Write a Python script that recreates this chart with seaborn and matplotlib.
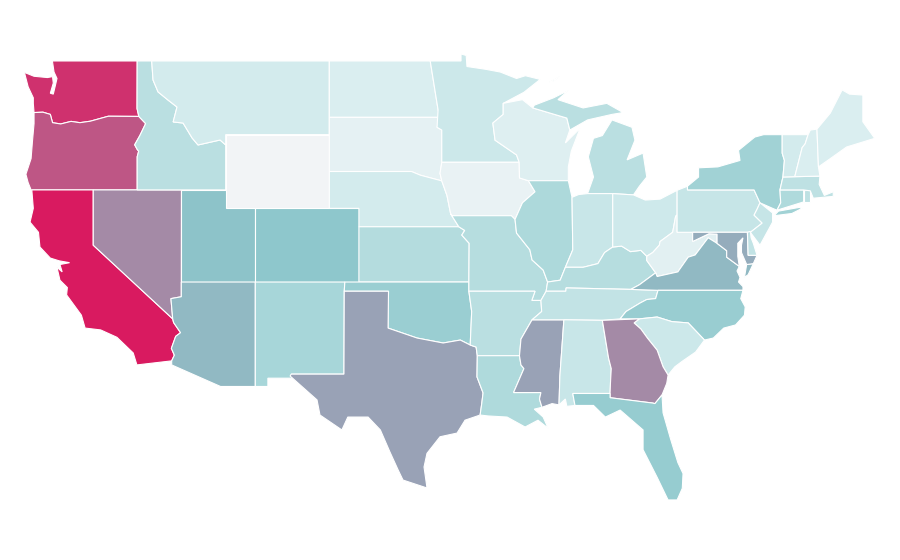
import matplotlib
matplotlib.use('Agg')
import matplotlib.pyplot as plt
from matplotlib.colors import Normalize
import seaborn as sns

# nilai per negara bagian (skala 0-100, dibaca dari warna)
states = ['WA', 'OR', 'CA', 'NV', 'ID', 'MT', 'WY', 'UT', 'CO', 'AZ', 'NM', 'ND', 'SD', 'NE', 'KS', 'OK',
          'TX', 'MN', 'IA', 'MO', 'AR', 'LA', 'WI', 'IL', 'MS', 'MI', 'IN', 'KY', 'TN', 'AL', 'OH', 'WV',
          'VA', 'NC', 'SC', 'GA', 'FL', 'PA', 'NY', 'MD', 'DE', 'NJ', 'CT', 'RI', 'MA', 'VT', 'NH', 'ME']
values = [94, 84, 100, 69, 28, 16, 0, 51, 49, 54, 37, 12, 7, 16, 31, 43,
          61, 19, 5, 30, 28, 33, 10, 34, 61, 28, 21, 30, 24, 21, 18, 8,
          54, 44, 19, 69, 45, 22, 40, 58, 24, 22, 33, 26, 26, 16, 12, 12]

# batas negara bagian (bujur, lintang)
WA = [[(-122.76,49),(-117.03,49),(-117.04,46.42),(-116.92,45.99),(-118.98,46),(-119.3,45.93),(-120.2,45.73),(-120.9,45.65),(-121.5,45.72),(-122.2,45.58),(-122.75,45.65),(-122.9,46.1),(-123.4,46.22),(-124,46.2),(-124.05,46.7),(-124.05,47),(-124.4,47.6),(-124.65,48.38),(-124,48.17),(-123.1,48.1),(-122.75,48.15),(-122.7,47.8),(-122.9,47.25),(-122.7,47.2),(-122.55,47.7),(-122.45,48.05),(-122.65,48.4)]]
OR = [[(-123.4,46.22),(-122.9,46.1),(-122.75,45.65),(-122.2,45.58),(-121.5,45.72),(-120.9,45.65),(-120.2,45.73),(-119.3,45.93),(-118.98,46),(-116.92,45.99),(-116.46,45.6),(-116.85,44.95),(-117.2,44.45),(-117.03,44.2),(-116.93,44.1),(-117.03,43.8),(-117.03,42),(-124.2,42),(-124.4,42.4),(-124.55,42.85),(-124.2,43.7),(-124.1,44.7),(-124,45.6),(-124,46.2)]]
CA = [[(-124.15,42),(-120,42),(-120,39),(-114.63,35),(-114.57,34.8),(-114.1,34.25),(-114.43,34.05),(-114.72,33.4),(-114.52,33.03),(-114.7,32.72),(-117.05,32.5),(-117.3,33.15),(-118.4,34),(-119.5,34.4),(-120.55,34.5),(-120.8,35.2),(-121.8,36.3),(-121.75,36.7),(-122.25,37.1),(-122.45,37.8),(-122.1,37.55),(-122.25,37.95),(-121.6,38.05),(-122.3,38.15),(-122.9,38.3),(-123.6,38.9),(-123.7,39.7),(-124.27,40.25),(-124.05,41)]]
NV = [[(-120,42),(-114.04,42),(-114.05,36.2),(-114.75,36.1),(-114.63,35),(-120,39)]]
ID = [[(-117.03,49),(-116.05,49),(-115.96,47.97),(-115.62,47.32),(-114.95,46.88),(-114.34,46.5),(-114.6,45.69),(-113.93,45.63),(-113.32,44.82),(-112.92,44.44),(-111.43,44.71),(-111.05,44.44),(-111.05,42),(-117.03,42),(-117.03,43.8),(-116.93,44.1),(-117.03,44.2),(-117.2,44.45),(-116.85,44.95),(-116.46,45.6),(-116.92,45.99),(-117.04,46.42)]]
MT = [[(-116.05,49),(-104.05,49),(-104.05,45),(-111.05,45),(-111.05,44.44),(-111.43,44.71),(-112.92,44.44),(-113.32,44.82),(-113.93,45.63),(-114.6,45.69),(-114.34,46.5),(-114.95,46.88),(-115.62,47.32),(-115.96,47.97)]]
WY = [[(-111.05,45),(-104.05,45),(-104.05,41),(-111.05,41)]]
UT = [[(-114.05,42),(-111.05,42),(-111.05,41),(-109.05,41),(-109.05,37),(-114.05,37)]]
CO = [[(-109.05,41),(-102.05,41),(-102.05,37),(-109.05,37)]]
AZ = [[(-114.05,37),(-109.05,37),(-109.05,31.33),(-111.4,31.33),(-114.7,32.5),(-114.7,32.72),(-114.52,33.03),(-114.72,33.4),(-114.43,34.05),(-114.1,34.25),(-114.57,34.8),(-114.63,35),(-114.75,36.1),(-114.05,36.2)]]
NM = [[(-109.05,37),(-103,37),(-103.04,36.5),(-103.06,32),(-106.62,32),(-106.53,31.78),(-108.2,31.78),(-108.2,31.33),(-109.05,31.33)]]
ND = [[(-104.05,49),(-97.23,49),(-96.7,46.35),(-96.56,45.94),(-104.05,45.94)]]
SD = [[(-104.05,45.94),(-96.56,45.94),(-96.77,45.4),(-96.45,45.25),(-96.45,43.5),(-96.57,42.9),(-96.45,42.49),(-97.9,42.8),(-98.5,43),(-104.05,43)]]
NE = [[(-104.05,43),(-98.5,43),(-97.9,42.8),(-96.45,42.49),(-96.1,41.7),(-95.85,40.7),(-95.3,40),(-102.05,40),(-102.05,41),(-104.05,41)]]
KS = [[(-102.05,40),(-95.3,40),(-94.9,39.8),(-95.1,39.55),(-94.6,39.1),(-94.62,37),(-102.05,37)]]
OK = [[(-103,37),(-94.62,37),(-94.62,36.5),(-94.43,35.4),(-94.53,33.58),(-95.2,33.85),(-96.36,33.69),(-98.12,33.96),(-100.08,34.5),(-100.05,36.5),(-103.04,36.5)]]
TX = [[(-103.04,36.5),(-100.05,36.5),(-100.08,34.5),(-98.12,33.96),(-96.36,33.69),(-95.2,33.85),(-94.53,33.58),(-94.13,33.47),(-94.05,33),(-94.07,31.85),(-93.66,30.98),(-93.75,30.4),(-93.86,29.78),(-94.88,29.5),(-95.42,28.8),(-96.57,28.6),(-97.45,27.7),(-97.65,26.96),(-97.45,25.82),(-99.07,26.25),(-99.4,26.8),(-99.95,27.77),(-100.6,28.97),(-101.43,29.67),(-102.8,29.67),(-103.2,28.97),(-104.68,29.78),(-104.88,30.6),(-106.7,31.9),(-106.62,32),(-103.06,32)]]
MN = [[(-97.23,49),(-95.15,49),(-95.15,49.38),(-94.8,49.3),(-94.75,48.7),(-93.5,48.55),(-92.5,48.4),(-91.4,48.05),(-90.8,48.2),(-89.8,48),(-90.9,47.3),(-92.3,46.7),(-92.3,46.1),(-93,45.63),(-92.85,44.7),(-91.4,43.9),(-91.22,43.5),(-96.45,43.5),(-96.45,45.25),(-96.77,45.4),(-96.7,46.35)]]
IA = [[(-96.45,43.5),(-91.22,43.5),(-91.2,42.65),(-90.6,42.5),(-90.15,41.9),(-91,41.3),(-91.5,40.4),(-91.75,40.6),(-95.75,40.6),(-95.85,40.7),(-96.1,41.7),(-96.45,42.49),(-96.57,42.9)]]
MO = [[(-95.75,40.6),(-91.75,40.6),(-91.5,40.4),(-91.4,39.66),(-90.5,38.75),(-90.35,38.2),(-89.6,37.65),(-89.3,37),(-89.4,36.5),(-89.75,36),(-90.37,36),(-90.15,36.5),(-94.62,36.5),(-94.62,37),(-94.6,39.1),(-95.1,39.55),(-94.9,39.8),(-95.3,40),(-95.85,40.7)]]
AR = [[(-94.62,36.5),(-90.15,36.5),(-90.37,36),(-89.75,36),(-89.7,35.4),(-90.35,34.95),(-90.6,34.6),(-91.1,33.9),(-91.2,33),(-94.05,33),(-94.13,33.47),(-94.53,33.58),(-94.43,35.4)]]
LA = [[(-94.05,33),(-91.2,33),(-91.1,32.5),(-90.9,32.3),(-91.6,31),(-89.75,31),(-89.85,30.65),(-89.68,30.2),(-90.2,30.1),(-89.6,29.67),(-89.27,29.07),(-89.95,29.5),(-90.82,29.13),(-92.04,29.67),(-93.33,29.73),(-93.86,29.78),(-93.75,30.4),(-93.66,30.98),(-94.07,31.85)]]
WI = [[(-92.3,46.7),(-91,46.9),(-90.3,46.45),(-88,45.9),(-87.8,45.25),(-88.1,44.55),(-87.1,45.35),(-87.7,44.1),(-87.9,43.25),(-87.9,42.5),(-90.6,42.5),(-91.2,42.65),(-91.22,43.5),(-91.4,43.9),(-92.85,44.7),(-93,45.63),(-92.3,46.1)]]
IL = [[(-90.6,42.5),(-87.9,42.5),(-87.65,41.6),(-87.6,38.75),(-88.1,37.8),(-88.45,37.1),(-89.3,37),(-89.6,37.65),(-90.35,38.2),(-90.5,38.75),(-91.4,39.66),(-91.5,40.4),(-91,41.3),(-90.15,41.9)]]
MS = [[(-90.35,34.95),(-88.2,34.95),(-88.47,31.9),(-88.53,30.33),(-89,30.4),(-89.68,30.2),(-89.85,30.65),(-89.75,31),(-91.6,31),(-90.9,32.3),(-91.1,32.5),(-91.2,33),(-91.1,33.9),(-90.6,34.6)]]
MI = [[(-86.6,41.8),(-84.9,41.8),(-83.5,41.73),(-83.1,42.2),(-82.6,42.7),(-82.85,44),(-83.93,43.63),(-83.4,44.7),(-83.6,45.4),(-84.95,45.8),(-85.6,44.95),(-86.2,44.8),(-86.55,43.8),(-86.2,42.7)],
      [(-90.3,46.45),(-88,45.9),(-87.8,45.25),(-86.6,45.8),(-84.95,46.1),(-84.2,46.2),(-85.3,46.7),(-86.9,46.45),(-88.6,46.9),(-87.9,47.4),(-88.9,47),(-90.2,46.6)],
      [(-89.2,47.85),(-88.5,48.15),(-88.9,47.9)]]
IN = [[(-87.65,41.6),(-87.2,41.75),(-86.6,41.8),(-84.9,41.8),(-84.9,38.9),(-85.45,38.6),(-85.9,38),(-86.9,37.8),(-88.1,37.8),(-87.6,38.75)]]
KY = [[(-89.4,36.5),(-88.07,36.5),(-88.05,36.68),(-83.68,36.6),(-83.1,36.85),(-82,37.5),(-82.6,38.17),(-82.6,38.4),(-83,38.72),(-83.7,38.65),(-84.3,38.95),(-84.9,38.9),(-85.45,38.6),(-85.9,38),(-86.9,37.8),(-88.1,37.8),(-88.45,37.1),(-89.3,37)]]
TN = [[(-90.35,34.95),(-88.2,34.95),(-85.6,34.92),(-84.4,35),(-84,35.4),(-83.05,35.86),(-82.6,36.05),(-82,36.1),(-81.84,36.55),(-83.68,36.6),(-88.05,36.68),(-88.07,36.5),(-89.4,36.5),(-89.75,36),(-89.7,35.4)]]
AL = [[(-88.2,34.95),(-85.6,34.92),(-85.18,32.87),(-85,32.3),(-85.05,31.55),(-85.08,30.95),(-87.6,30.95),(-87.45,30.3),(-88,30.25),(-88.1,30.65),(-88.53,30.33),(-88.47,31.9)]]
OH = [[(-84.9,41.8),(-83.5,41.73),(-82.7,41.45),(-81.7,41.5),(-80.55,41.98),(-80.55,40.64),(-80.65,40.57),(-80.85,39.7),(-81.7,39.2),(-81.75,39),(-82.2,38.6),(-82.6,38.4),(-83,38.72),(-83.7,38.65),(-84.3,38.95),(-84.9,38.9)]]
WV = [[(-82.6,38.17),(-82,37.5),(-81.9,37.3),(-80.5,37.55),(-79.8,38.35),(-79.33,38.47),(-78.45,39.4),(-77.85,39.1),(-77.85,39.6),(-78.4,39.62),(-79.5,39.2),(-79.5,39.7),(-80.55,39.7),(-80.55,40.64),(-80.65,40.57),(-80.85,39.7),(-81.7,39.2),(-81.75,39),(-82.2,38.6),(-82.6,38.4)]]
VA = [[(-83.68,36.6),(-81.84,36.55),(-76.1,36.55),(-76.1,36.75),(-76.4,37),(-76.3,37.25),(-76.5,37.6),(-76.35,37.85),(-77.2,38.35),(-77.2,38.7),(-77.85,39.1),(-78.45,39.4),(-79.33,38.47),(-79.8,38.35),(-80.5,37.55),(-81.9,37.3),(-82,37.5),(-83.1,36.85)],
      [(-76,37.25),(-75.85,37.95),(-75.4,38),(-75.75,37.4)]]
NC = [[(-84.4,35),(-83.1,35),(-81.9,35.1),(-80.9,34.85),(-79.8,34.78),(-78.7,33.85),(-78.1,33.96),(-77.4,34.5),(-76.6,34.67),(-76,35.2),(-75.95,35.65),(-76.25,36.1),(-76.1,36.55),(-81.84,36.55),(-82,36.1),(-82.6,36.05),(-83.05,35.86),(-84,35.4)]]
SC = [[(-83.46,34.78),(-83.1,35),(-81.9,35.1),(-80.9,34.85),(-79.8,34.78),(-78.7,33.85),(-79.3,33.2),(-80.2,32.7),(-80.7,32.4),(-81.16,31.95),(-81.5,32.4),(-81.9,33.3),(-82.55,33.95),(-83,34.45)]]
GA = [[(-85.6,34.92),(-83.1,35),(-83.46,34.78),(-83,34.45),(-82.55,33.95),(-81.9,33.3),(-81.5,32.4),(-81.16,31.95),(-81.25,31.5),(-81.57,30.87),(-82.05,30.4),(-82.2,30.43),(-85.08,30.72),(-85.08,30.95),(-85.05,31.55),(-85,32.3),(-85.18,32.87)]]
FL = [[(-87.6,30.95),(-85.08,30.95),(-85.08,30.72),(-82.2,30.43),(-82.05,30.4),(-81.57,30.87),(-81.5,29.9),(-81,28.5),(-80.5,27.2),(-80.15,26.6),(-80.2,25.8),(-80.55,25.17),(-81.16,25.17),(-81.9,26.4),(-82.85,27.9),(-82.85,28.97),(-84.4,30.05),(-85.4,29.67),(-86.2,30.3),(-87.45,30.3)]]
PA = [[(-80.55,41.98),(-79.85,42.2),(-79.85,42),(-75.35,42),(-74.95,41.3),(-75.13,40.98),(-75.35,40.63),(-74.8,40.2),(-75.6,39.7),(-80.55,39.7)]]
NY = [[(-79.85,42.2),(-79.1,42.7),(-79.1,43.2),(-77.8,43.25),(-76.3,43.6),(-76.4,44.15),(-75.3,44.87),(-74.7,45),(-73.45,45),(-73.45,44),(-73.3,43.6),(-73.4,42.7),(-73.6,42),(-73.55,41.3),(-73.8,40.9),(-74.1,41),(-74.95,41.3),(-75.35,42),(-79.85,42)],
      [(-74,40.6),(-73.7,40.85),(-72.3,41.05),(-72.1,41),(-72.8,40.72)]]
MD = [[(-79.5,39.7),(-75.8,39.7),(-75.75,38.45),(-75.15,38.45),(-75.4,38),(-75.85,37.95),(-76.2,38.6),(-76.2,39),(-76.1,39.4),(-76.45,39.1),(-76.45,38.4),(-76.35,37.85),(-77.2,38.35),(-77.2,38.7),(-77.85,39.1),(-77.85,39.6),(-78.4,39.62),(-79.5,39.2)]]
DE = [[(-75.8,39.7),(-75.6,39.75),(-75.55,39.4),(-75.4,39.1),(-75.15,38.45),(-75.75,38.45)]]
NJ = [[(-74.95,41.3),(-74.1,40.75),(-74.1,40.25),(-74.95,39),(-75.6,39.7),(-74.8,40.2),(-75.35,40.63),(-75.13,40.98)]]
CT = [[(-73.6,42),(-72,42),(-72,41.35),(-73.8,40.9),(-73.55,41.3)]]
RI = [[(-72,42),(-71.55,42),(-71.55,41.35),(-72,41.35)]]
MA = [[(-73.6,42),(-73.4,42.7),(-70.9,42.75),(-70.95,42.3),(-70.6,41.7),(-70,41.9),(-70,41.65),(-71.35,41.55),(-71.55,41.95),(-72,42)]]
VT = [[(-73.45,45),(-71.7,45),(-71.9,44.5),(-72.1,44.3),(-72.6,42.72),(-73.4,42.7),(-73.3,43.6),(-73.45,44)]]
NH = [[(-71.7,45),(-71.55,45.25),(-71.1,45.3),(-71,43.25),(-70.9,42.75),(-72.6,42.72),(-72.1,44.3),(-71.9,44.5)]]
ME = [[(-71.1,45.3),(-70.2,46.17),(-69.4,47.43),(-68.9,47.2),(-68,47.15),(-68,45.7),(-67.2,44.8),(-69.1,44.33),(-70.2,43.7),(-71,43.25)]]

sns.set_theme(style='white')
cmap = sns.blend_palette(['#f2f4f6', '#d9eef0', '#c0e2e4', '#a6d5d8', '#8cc6cb',
                          '#9a9eb3', '#ad789a', '#c44a7e', '#d91a60'], as_cmap=True)
norm = Normalize(0, 100)

fig = plt.figure(figsize=(9, 5.6), dpi=100)
ax = fig.add_axes([0, 0, 1, 1])

for name, value in zip(states, values):
    for part in globals()[name]:
        lons = [p[0] for p in part]
        lats = [p[1] for p in part]
        ax.fill(lons, lats, color=cmap(norm(value)), edgecolor='white', linewidth=0.8)

ax.set_xlim(-126.3, -65.49)
ax.set_ylim(21.91, 52.31)
ax.axis('off')
sns.despine(left=True, bottom=True)

fig.savefig('out.png', dpi=100)
